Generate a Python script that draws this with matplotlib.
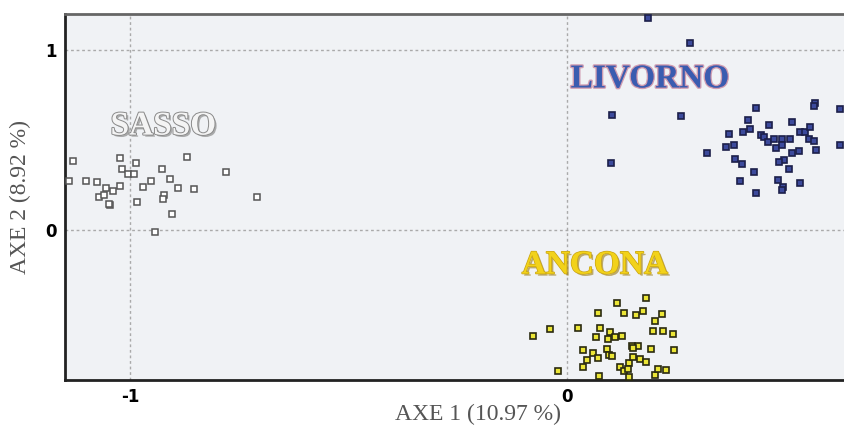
import matplotlib.pyplot as plt
import matplotlib.patheffects as pe

# SASSO group (axis 1, axis 2)
sasso_x = [-1.131, -1.139, -1.101, -1.076, -1.055, -1.038, -1.024, -1.072, -1.059,
           -1.046, -1.048, -1.024, -1.019, -1.004, -0.992, -0.987, -0.984, -0.970,
           -0.953, -0.927, -0.908, -0.890, -0.922, -0.924, -0.905, -0.870, -0.854,
           -0.780, -0.710, -0.942]
sasso_y = [0.383, 0.274, 0.274, 0.270, 0.235, 0.218, 0.248, 0.183, 0.196,
           0.137, 0.148, 0.400, 0.339, 0.311, 0.311, 0.374, 0.157, 0.237,
           0.272, 0.341, 0.282, 0.233, 0.194, 0.172, 0.089, 0.406, 0.226,
           0.321, 0.182, -0.013]

# LIVORNO group
livorno_x = [0.186, 0.281, 0.104, 0.261, 0.101, 0.320, 0.364, 0.383, 0.370, 0.402,
             0.419, 0.414, 0.432, 0.462, 0.443, 0.451, 0.459, 0.474, 0.478, 0.493,
             0.493, 0.510, 0.516, 0.533, 0.545, 0.556, 0.553, 0.565, 0.571, 0.568,
             0.566, 0.625, 0.625, 0.530, 0.514, 0.497, 0.486, 0.508, 0.385, 0.400,
             0.428, 0.397, 0.482, 0.494, 0.492, 0.533, 0.432]
livorno_y = [1.179, 1.039, 0.637, 0.632, 0.372, 0.429, 0.463, 0.471, 0.535, 0.548,
             0.561, 0.611, 0.676, 0.585, 0.528, 0.518, 0.487, 0.507, 0.459, 0.507,
             0.472, 0.509, 0.600, 0.546, 0.543, 0.574, 0.507, 0.496, 0.444, 0.707,
             0.689, 0.671, 0.471, 0.441, 0.429, 0.389, 0.378, 0.341, 0.396, 0.367,
             0.322, 0.274, 0.278, 0.241, 0.222, 0.263, 0.204]

# ANCONA group
ancona_x = [-0.077, -0.039, -0.021, 0.025, 0.036, 0.037, 0.046, 0.059, 0.070, 0.071,
            0.076, 0.066, 0.073, 0.092, 0.093, 0.098, 0.095, 0.102, 0.111, 0.127,
            0.115, 0.130, 0.121, 0.131, 0.141, 0.143, 0.140, 0.149, 0.162, 0.152,
            0.167, 0.180, 0.158, 0.175, 0.180, 0.202, 0.217, 0.197, 0.219, 0.243,
            0.246, 0.192, 0.201, 0.209, 0.227, 0.152]
ancona_y = [-0.589, -0.550, -0.783, -0.543, -0.665, -0.763, -0.722, -0.685, -0.711, -0.463,
            -0.543, -0.596, -0.809, -0.661, -0.607, -0.568, -0.696, -0.700, -0.596, -0.589,
            -0.407, -0.463, -0.763, -0.782, -0.737, -0.818, -0.774, -0.641, -0.641, -0.707,
            -0.718, -0.733, -0.474, -0.450, -0.376, -0.504, -0.467, -0.559, -0.561, -0.578,
            -0.668, -0.663, -0.802, -0.774, -0.778, -0.657]

fig = plt.figure(figsize=(8.44, 4.29), dpi=100)
ax = fig.add_axes([0.077, 0.114, 0.923, 0.853])
ax.set_facecolor('#f0f2f5')

ax.set_xlim(-1.149, 0.634)
ax.set_ylim(-0.833, 1.2)

# dotted reference grid
for gx in [-1, 0]:
    ax.axvline(gx, color='#aaaaaa', lw=1, ls=(0, (2, 2)), zorder=1)
for gy in [0, 1]:
    ax.axhline(gy, color='#aaaaaa', lw=1, ls=(0, (2, 2)), zorder=1)

ax.plot(sasso_x, sasso_y, 's', ms=4.6, mfc='white', mec='#555555', mew=1.1, zorder=3)
ax.plot(livorno_x, livorno_y, 's', ms=4.4, mfc='#3c4a9c', mec='#1c1f4a', mew=1.2,
        zorder=3, clip_on=False)
ax.plot(ancona_x, ancona_y, 's', ms=4.6, mfc='#ece636', mec='#2a2a10', mew=1.2, zorder=3)

serif = ['Liberation Serif', 'DejaVu Serif']
ax.text(-0.924, 0.578, 'SASSO', fontsize=24, fontweight='bold', family=serif,
        color='#f4f4f4', ha='center', va='center', zorder=4,
        path_effects=[pe.withSimplePatchShadow(offset=(1.5, -1.5), shadow_rgbFace='#999999', alpha=0.8),
                      pe.Stroke(linewidth=1.4, foreground='#8a8a8a'), pe.Normal()])
ax.text(0.19, 0.84, 'LIVORNO', fontsize=24, fontweight='bold', family=serif,
        color='#3a5cb0', ha='center', va='center', zorder=4,
        path_effects=[pe.Stroke(linewidth=2, foreground='#b04a70', alpha=0.5), pe.Normal()])
ax.text(0.064, -0.194, 'ANCONA', fontsize=24, fontweight='bold', family=serif,
        color='#f2d21a', ha='center', va='center', zorder=4,
        path_effects=[pe.withSimplePatchShadow(offset=(1.5, -1.5), shadow_rgbFace='#9a7a10', alpha=0.6),
                      pe.Stroke(linewidth=1, foreground='#c9a414'), pe.Normal()])

ax.set_xticks([-1, 0])
ax.set_xticklabels(['-1', '0'])
ax.set_yticks([0, 1])
ax.set_yticklabels(['0', '1'])
ax.tick_params(length=0, labelsize=12, pad=6)
for lab in ax.get_xticklabels() + ax.get_yticklabels():
    lab.set_fontweight('bold')

ax.set_xlabel('AXE 1 (10.97 %)', fontsize=17, family=serif, color='#555555', labelpad=2)
ax.xaxis.set_label_coords(0.53, -0.065)
ax.set_ylabel('AXE 2 (8.92 %)', fontsize=17, family=serif, color='#555555', labelpad=10)

ax.spines['left'].set_linewidth(2)
ax.spines['bottom'].set_linewidth(2)
ax.spines['left'].set_color('#222222')
ax.spines['bottom'].set_color('#222222')
ax.spines['top'].set_linewidth(2)
ax.spines['top'].set_color('#666666')
ax.spines['right'].set_visible(False)

fig.savefig('out.png', dpi=100)
